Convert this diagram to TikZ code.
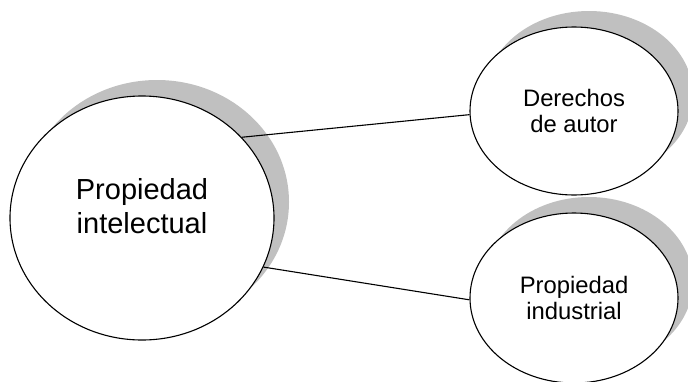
\documentclass[tikz,border=0pt]{standalone}
\usepackage{fontspec}
\setmainfont{Liberation Sans}
\usepackage{tikz}
\usetikzlibrary{shapes.geometric,shadows}
\definecolor{sombra}{RGB}{192,192,192}

\begin{document}
\begin{tikzpicture}[x=1pt,y=-1pt,
  concepto/.style={draw,ellipse,fill=white,line width=1.1pt,inner sep=0pt,align=center,
    drop shadow={shadow xshift=15pt,shadow yshift=16pt,fill=sombra,opacity=1}}]
\useasboundingbox (0,0) rectangle (688,381);

\node[concepto,minimum width=264pt,minimum height=244pt,text height=40pt,text depth=10pt,
  font=\fontsize{29}{34}\selectfont] (pi) at (142,218) {Propiedad\\intelectual};

\node[concepto,minimum width=208pt,minimum height=168pt,
  font=\fontsize{23.8}{26.7}\selectfont] (da) at (574,111) {Derechos\\de autor};
\node[concepto,minimum width=208pt,minimum height=170pt,
  font=\fontsize{23.8}{26.7}\selectfont] (pind) at (574,298) {Propiedad\\industrial};

% ramas
\draw[line width=1.1pt] (pi.39) -- (da.182);
\draw[line width=1.1pt] (pi.-22) -- (pind.181);

\end{tikzpicture}
\end{document}
